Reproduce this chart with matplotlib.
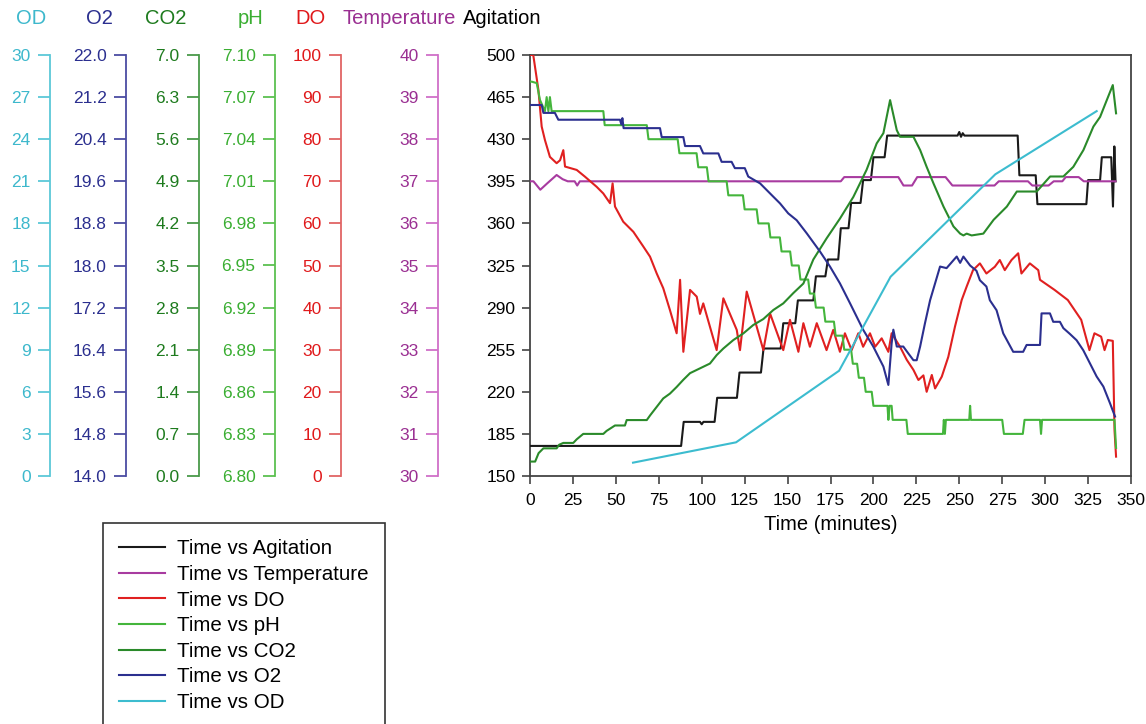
import matplotlib
matplotlib.use("Agg")
import matplotlib.pyplot as plt
from matplotlib.lines import Line2D

plt.rcParams['font.family'] = ['Liberation Sans', 'DejaVu Sans']

# ── data (time in minutes, values in each series' own units) ─────────────────
agit_t = [0, 88, 89.5, 99, 100, 101, 107.5, 109, 120.5, 122, 134.5, 136, 146, 147.5,
          154.5, 156, 165, 166.5, 172, 173.5, 179.5, 181, 185.5, 187, 192.5, 194,
          198.5, 200, 206.5, 208, 249, 250, 251, 252, 253, 284, 285, 294.5, 295.5,
          324, 325, 332, 333, 338.5, 339.5, 340.3, 341]
agit_v = [175, 175, 195, 195, 193, 195, 195, 215, 215, 236, 236, 256, 256, 277,
          277, 296, 296, 316, 316, 330, 330, 356, 356, 377, 377, 396,
          396, 415, 415, 433, 433, 436, 432, 435, 433, 433, 400, 400, 376,
          376, 396, 396, 415, 415, 374, 424, 395]

temp_t = [0, 2, 6, 10, 15.5, 19, 22, 26, 27.5, 29, 181, 183, 214.5, 217.5, 222.5,
          225.5, 242, 246, 270.5, 273, 290, 292.5, 302, 305, 310, 312, 319.5, 322.5, 341]
temp_v = [37.0, 37.0, 36.8, 36.95, 37.15, 37.05, 37.0, 37.0, 36.9, 37.0, 37.0, 37.1,
          37.1, 36.9, 36.9, 37.1, 37.1, 36.9, 36.9, 37.0, 37.0, 36.9, 36.9, 37.0,
          37.0, 37.1, 37.1, 37.0, 37.0]

do_t = [0, 1.9, 4.9, 6.8, 8.7, 11.6, 15.5, 17.5, 19.4, 20.4, 27.2, 32, 38.8, 42.7,
        46.6, 48.1, 49.5, 54.3, 60.2, 66, 69.9, 73.8, 77.6, 81.5, 85.4, 87.4, 89.3,
        93.2, 97.1, 99, 100.9, 108.7, 112.6, 120.4, 122.3, 126.2, 135.9, 139.8, 147.5,
        151.4, 156.3, 159.2, 163, 167, 172.7, 176.6, 180.5, 183.4, 187.3, 191.2, 194,
        198, 201, 204.8, 208.7, 210.6, 215.5, 219.4, 223.3, 226.2, 229.1, 231, 234,
        235.9, 239.8, 243.6, 247.5, 251.4, 254.3, 258, 262, 265.8, 270.7, 273.6, 276.5,
        280.4, 284.3, 286.2, 291.1, 296, 297, 305.5, 313.2, 321, 325.8, 328.7, 332.6,
        334.6, 336.5, 339.4, 340.4, 341.3]
do_v = [100, 100, 91.7, 83, 79.8, 75.8, 74.3, 75, 77.4, 73.5, 72.7, 71.1, 68.7, 67.1,
        64.8, 69.5, 64, 60.4, 58.0, 54.5, 52.1, 48.1, 44.6, 39.4, 33.9, 46.6, 29.5,
        44.2, 42.6, 38.5, 41.0, 29.9, 42.2, 34.7, 29.9, 43.8, 29.9, 38.6, 29.9,
        37.1, 29.5, 36.3, 30.7, 36.3, 29.9, 34.7, 29.5, 33.9, 29.9, 33.9, 30.7,
        33.9, 30.7, 32.7, 29.5, 33.9, 30.7, 27.6, 25.2, 22.8, 23.9, 20, 24,
        20.8, 23.6, 28.3, 35.5, 41.8, 45, 48.9, 50.5, 48.1, 49.7, 51.3, 48.9,
        51.3, 52.9, 48.1, 50.5, 48.9, 46.6, 44.2, 41.8, 37.1, 29.9, 33.9, 33.1,
        29.9, 32.3, 32.1, 10.9, 4.6]

ph_t = [0, 1, 3.9, 5.8, 8.7, 9.7, 10.7, 11.6, 12.6, 42.7, 43.5, 68, 69, 86, 87, 97, 98,
        103, 104, 114.5, 115.5, 124, 125, 132, 133, 139, 140, 145.5, 146.5, 151.5, 152.5,
        156.5, 157.5, 162, 163, 165.5, 166.5, 171, 172, 177, 178, 182, 183, 187, 188,
        190.5, 191.5, 194.5, 195.5, 199, 200, 208.2, 208.7, 209.4, 210.6, 211.2, 219.2,
        220, 240.5, 241, 241.6, 242.2, 255.8, 256.3, 256.8, 275, 276, 287, 288, 297,
        297.6, 298.2, 340.4, 341.3]
ph_v = [7.081, 7.081, 7.080, 7.068, 7.060, 7.070, 7.060, 7.070, 7.060, 7.060, 7.050,
        7.050, 7.040, 7.040, 7.030, 7.030, 7.020, 7.020, 7.010, 7.010, 7.000, 7.000,
        6.990, 6.990, 6.980, 6.980, 6.970, 6.970, 6.960, 6.960, 6.950, 6.950, 6.940,
        6.940, 6.930, 6.930, 6.920, 6.920, 6.910, 6.910, 6.900, 6.900, 6.890, 6.890,
        6.880, 6.880, 6.870, 6.870, 6.860, 6.860, 6.850, 6.850, 6.840, 6.850, 6.850,
        6.840, 6.840, 6.830, 6.830, 6.840, 6.830, 6.840, 6.840, 6.850, 6.840, 6.840,
        6.830, 6.830, 6.840, 6.840, 6.830, 6.840, 6.840, 6.820]

co2_t = [0, 1, 3, 5, 7.8, 15.5, 17, 19.4, 25.2, 27.2, 31, 42.7, 44.6, 49.5, 55.3, 56.3,
         68, 70, 73.8, 77.6, 81.5, 85.4, 89.3, 93.2, 99, 104.8, 108.7, 112.6, 118.4,
         124.2, 130, 135.9, 141.7, 147.5, 153.3, 159.2, 165, 172.7, 180.5, 188.3, 196,
         201.9, 205.8, 209.7, 213.6, 215.5, 223.3, 227.2, 231, 234.9, 240.8, 246.6,
         250.5, 252.4, 254.3, 257.2, 264, 270, 277.7, 283.5, 295.1, 302.9, 310.6,
         316.4, 322.3, 328.1, 332, 335.9, 339.4, 341.3]
co2_v = [0.24, 0.24, 0.24, 0.38, 0.46, 0.46, 0.52, 0.55, 0.55, 0.61, 0.70, 0.70, 0.75,
         0.84, 0.84, 0.93, 0.93, 1.01, 1.15, 1.29, 1.37, 1.48, 1.60, 1.71, 1.79, 1.87,
         2.01, 2.12, 2.26, 2.37, 2.51, 2.61, 2.76, 2.87, 3.04, 3.20, 3.60, 3.95, 4.28,
         4.64, 5.09, 5.53, 5.70, 6.25, 5.75, 5.64, 5.64, 5.42, 5.14, 4.87, 4.48, 4.15,
         4.03, 4.00, 4.03, 4.00, 4.03, 4.26, 4.48, 4.73, 4.73, 4.98, 4.98, 5.14, 5.42,
         5.81, 5.97, 6.25, 6.50, 6.03]

o2_t = [0, 6.8, 7.8, 14.5, 16.5, 52.4, 53.2, 53.8, 54.5, 75.7, 76.7, 89.3, 90.3, 99,
        100.9, 109.7, 111.6, 117.4, 119.3, 125.1, 127.1, 134, 140.7, 145.6, 150.4, 155.3,
        161.2, 169, 174.7, 180.5, 186.4, 194, 199.9, 205.8, 208.7, 210.6, 211.6, 213.6,
        217.4, 220.3, 223.3, 225.2, 227.2, 230, 233, 235.9, 238.8, 242.6, 246.6, 248.5,
        250.5, 252.4, 256.3, 260, 262, 265.8, 267.8, 271.7, 275.6, 281.4, 287.2, 289.2,
        297, 297.9, 302.8, 304.7, 308.6, 310.6, 314.4, 318.3, 322.2, 326.1, 330, 333.9,
        337.8, 340.7]
o2_v = [21.05, 21.05, 20.90, 20.90, 20.77, 20.77, 20.68, 20.80, 20.61, 20.61, 20.44,
        20.44, 20.27, 20.27, 20.13, 20.13, 19.97, 19.97, 19.85, 19.85, 19.69, 19.56,
        19.34, 19.18, 18.99, 18.86, 18.61, 18.26, 17.98, 17.66, 17.28, 16.78, 16.46,
        16.08, 15.73, 16.52, 16.78, 16.46, 16.46, 16.33, 16.20, 16.20, 16.46, 16.90,
        17.34, 17.66, 17.98, 17.95, 18.10, 18.17, 18.05, 18.17, 18.00, 17.90, 17.72,
        17.60, 17.34, 17.15, 16.71, 16.36, 16.36, 16.49, 16.49, 17.09, 17.09, 16.93,
        16.93, 16.81, 16.70, 16.58, 16.39, 16.14, 15.89, 15.70, 15.38, 15.13]

od_t = [60, 120, 180, 210, 271, 330]
od_v = [0.95, 2.4, 7.5, 14.2, 21.5, 26.0]

# ── scales: name, lower, upper, tick step, tick format, label colour, spine colour
scales = [
    ("OD",          0,    30,   3,    "{:.0f}", "#3db8cc", "#5cc8d8"),
    ("O2",          14.0, 22.0, 0.8,  "{:.1f}", "#2b2f8f", "#4b4ca2"),
    ("CO2",         0.0,  7.0,  0.7,  "{:.1f}", "#1e7b1e", "#4a9a4a"),
    ("pH",          6.80, 7.10, 0.03, "{:.2f}", "#3aae32", "#5cc050"),
    ("DO",          0,    100,  10,   "{:.0f}", "#e0191b", "#e06464"),
    ("Temperature", 30,   40,   1,    "{:.0f}", "#9a2f92", "#d070c8"),
]
spine_px = [50, 126, 199, 275, 341, 438]
title_px = [31, 99, 166, 251, 310, 399]

W, H = 1146, 724
fig = plt.figure(figsize=(W / 100, H / 100), dpi=100)

left, right, top, bottom = 530, 1131, 55, 476
pos = [left / W, 1 - bottom / H, (right - left) / W, (bottom - top) / H]

# main axis (Agitation)
ax = fig.add_axes(pos)
ax.set_xlim(0, 350)
ax.set_ylim(150, 500)
ax.set_xticks(range(0, 351, 25))
ax.set_yticks(range(150, 501, 35))
for s in ax.spines.values():
    s.set_color("#444444")
    s.set_linewidth(1.3)
ax.tick_params(axis="y", length=6, width=1.2, pad=4.5, labelsize=12.5, color="#444444")
ax.tick_params(axis="x", length=6, width=1.2, pad=6, labelsize=12.5, color="#444444")
ax.set_xlabel("Time (minutes)", fontsize=14.5, labelpad=5)

# left-hand scale axes
for (name, lo, hi, step, fmt, tc, sc), sx, tx in zip(scales, spine_px, title_px):
    sa = fig.add_axes([sx / W, pos[1], 0.001, pos[3]])
    sa.patch.set_visible(False)
    for k in ("top", "right", "bottom"):
        sa.spines[k].set_visible(False)
    sa.spines["left"].set_color(sc)
    sa.spines["left"].set_linewidth(1.3)
    sa.set_xticks([])
    sa.set_ylim(lo, hi)
    ticks = [lo + i * step for i in range(11)]
    sa.set_yticks(ticks)
    sa.set_yticklabels([fmt.format(t) for t in ticks])
    sa.tick_params(axis="y", length=8.5, width=1.3, pad=5.5, labelsize=12.5,
                   color=sc, labelcolor=tc)
    fig.text(tx / W, 1 - 19 / H, name, color=tc, fontsize=14.5, ha="center", va="center")

fig.text(502 / W, 1 - 19 / H, "Agitation", color="black", fontsize=14.5,
         ha="center", va="center")

# series, each drawn on an overlay axis in its own units
series = [
    ("Time vs Agitation",   agit_t, agit_v, (150, 500),  "#1a1a1a"),
    ("Time vs Temperature", temp_t, temp_v, (30, 40),    "#a83ba0"),
    ("Time vs DO",          do_t,   do_v,   (0, 100),    "#e02020"),
    ("Time vs pH",          ph_t,   ph_v,   (6.80, 7.10), "#44b53c"),
    ("Time vs CO2",         co2_t,  co2_v,  (0, 7),      "#2a8a2a"),
    ("Time vs O2",          o2_t,   o2_v,   (14, 22),    "#2b2f8f"),
    ("Time vs OD",          od_t,   od_v,   (0, 30),     "#3cbccf"),
]
handles = []
for i, (lab, t, v, ylim, col) in enumerate(series):
    oa = fig.add_axes(pos, label=f"overlay{i}")
    oa.set_xlim(0, 350)
    oa.set_ylim(*ylim)
    oa.axis("off")
    oa.plot(t, v, color=col, lw=1.5)
    handles.append(Line2D([], [], color=col, lw=1.5, label=lab))

leg = fig.legend(handles=handles, loc="upper left",
                 bbox_to_anchor=(103 / W, 1 - 523 / H), fontsize=14.8,
                 handlelength=2.2, handletextpad=0.6, labelspacing=0.32,
                 borderpad=0.8, borderaxespad=0, fancybox=False,
                 edgecolor="#333333", framealpha=1)
leg.get_frame().set_linewidth(1.2)

fig.savefig("out.png", dpi=100)
